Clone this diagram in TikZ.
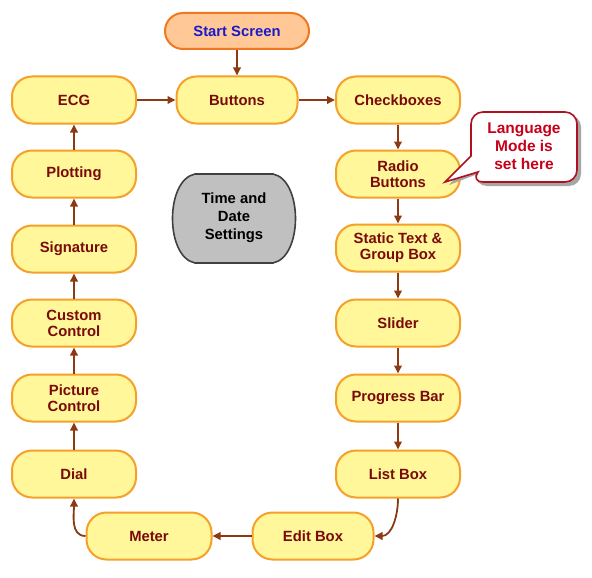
\documentclass[tikz,border=0pt]{standalone}
\usepackage{fontspec}
\setmainfont{Liberation Sans}
\usetikzlibrary{arrows.meta}
\definecolor{boxfill}{HTML}{FFF799}
\definecolor{boxdraw}{HTML}{F5A02A}
\definecolor{boxtext}{HTML}{7A0A0A}
\definecolor{startfill}{HTML}{FFC896}
\definecolor{startdraw}{HTML}{F07820}
\definecolor{starttext}{HTML}{1A1AC8}
\definecolor{arrowcol}{HTML}{8B3A12}
\definecolor{calloutdraw}{HTML}{B01020}
\definecolor{callouttext}{HTML}{C8001A}
\definecolor{timefill}{HTML}{C0C0C0}
\definecolor{timedraw}{HTML}{404040}
\tikzset{
  stepbox/.style={rounded corners=20pt, minimum width=124pt, minimum height=47pt,
    fill=boxfill, draw=boxdraw, line width=2pt, text=boxtext, align=center,
    font=\fontsize{14.8}{16}\selectfont\bfseries, inner sep=0pt},
  startbox/.style={stepbox, rounded corners=18pt, fill=startfill, draw=startdraw, text=starttext,
    minimum width=144pt, minimum height=36pt},
  flow/.style={draw=arrowcol, line width=1.8pt, -{Triangle[width=7.5pt,length=8pt]}},
}
\begin{document}
\begin{tikzpicture}[x=1pt,y=-1pt]
\useasboundingbox (0,0) rectangle (592,578);
% nodes
\node[startbox] (start) at (237,31) {Start Screen};
\node[stepbox, minimum width=121pt] (buttons) at (237,100) {Buttons};
\node[stepbox] (ecg) at (74,100) {ECG};
\node[stepbox] (check) at (398,100) {Checkboxes};
\node[stepbox] (radio) at (398,174) {Radio\\Buttons};
\node[stepbox] (static) at (398,248) {Static Text \&\\Group Box};
\node[stepbox] (slider) at (398,323) {Slider};
\node[stepbox] (progress) at (398,398) {Progress Bar};
\node[stepbox] (listbox) at (398,474) {List Box};
\node[stepbox, minimum width=121pt] (editbox) at (313,536) {Edit Box};
\node[stepbox, minimum width=125pt] (meter) at (149,536) {Meter};
\node[stepbox] (dial) at (74,474) {Dial};
\node[stepbox] (picture) at (74,398) {Picture\\Control};
\node[stepbox] (custom) at (74,323) {Custom\\Control};
\node[stepbox] (signature) at (74,249) {Signature};
\node[stepbox] (plotting) at (74,174) {Plotting};
% time and date settings
\path[fill=timefill, draw=timedraw, line width=1.6pt]
  (195,174) -- (273,174) .. controls (303,180) and (303,257) .. (273,263)
  -- (195,263) .. controls (165,257) and (165,180) .. (195,174) -- cycle;
\node[text=black, align=center, font=\fontsize{14.8}{18}\selectfont\bfseries] (time) at (234,218) {Time and\\Date\\Settings};
% callout
\fill[black!35] (475,115) [rounded corners=12pt] -- (581,115) -- (581,186) -- (475,186) [sharp corners] -- (475,175) -- (449,185) -- (475,158) [rounded corners=12pt] -- cycle;
\path[fill=white, draw=calloutdraw, line width=1.6pt]
  (471,135) [rounded corners=12pt] -- (471,112) -- (577,112) -- (577,182) -- (471,182) [sharp corners] -- (478,172) -- (445,182) -- (471,156) -- cycle;
\node[text=callouttext, align=center, font=\fontsize{15.5}{18}\selectfont\bfseries] (callout) at (524,146) {Language\\Mode is\\set here};
% connectors
\draw[flow] (start) -- (buttons);
\draw[flow] (ecg) -- (buttons);
\draw[flow] (buttons) -- (check);
\draw[flow] (check) -- (radio);
\draw[flow] (radio) -- (static);
\draw[flow] (static) -- (slider);
\draw[flow] (slider) -- (progress);
\draw[flow] (progress) -- (listbox);
\draw[flow] (listbox.south) to[out=-90,in=0] (editbox.east);
\draw[flow] (editbox) -- (meter);
\draw[flow] (meter.west) to[out=180,in=-90] (dial.south);
\draw[flow] (dial) -- (picture);
\draw[flow] (picture) -- (custom);
\draw[flow] (custom) -- (signature);
\draw[flow] (signature) -- (plotting);
\draw[flow] (plotting) -- (ecg);
\end{tikzpicture}
\end{document}
